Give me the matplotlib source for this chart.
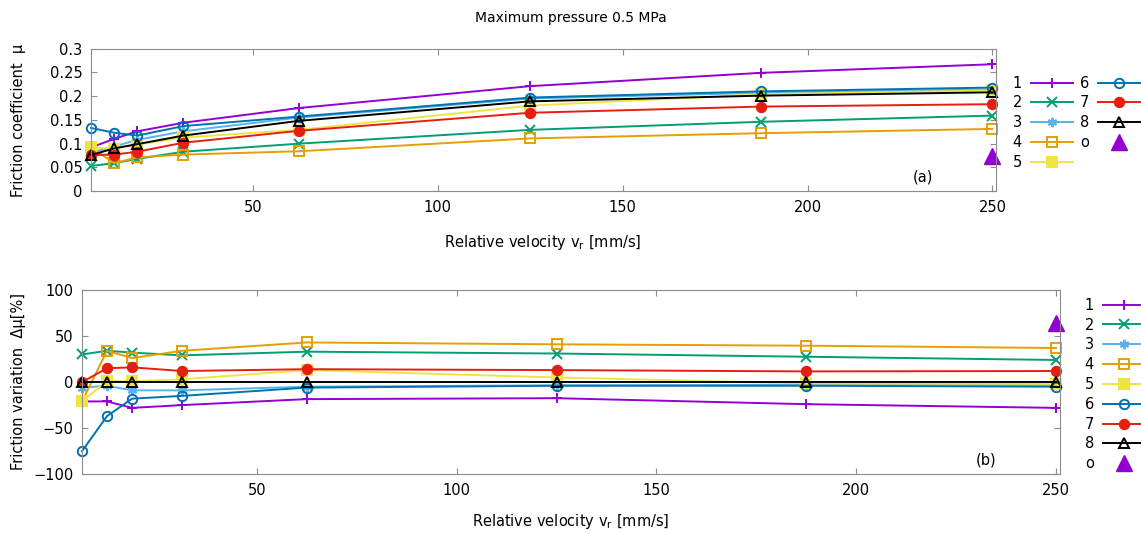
import matplotlib
matplotlib.use('Agg')
import matplotlib.pyplot as plt

# velocidades relativas [mm/s]
vel = [6.25, 12.5, 18.75, 31.25, 62.5, 125, 187.5, 250]

# coeficiente de atrito (a)
mu_1 = [0.092, 0.110, 0.126, 0.144, 0.175, 0.221, 0.249, 0.267]
mu_2 = [0.053, 0.059, 0.068, 0.083, 0.100, 0.129, 0.146, 0.159]
mu_3 = [0.081, 0.094, 0.108, 0.126, 0.155, 0.195, 0.207, 0.214]
mu_4 = [0.092, 0.059, 0.071, 0.077, 0.084, 0.111, 0.122, 0.131]
mu_5 = [0.092, 0.089, 0.098, 0.113, 0.129, 0.180, 0.204, 0.212]
mu_6 = [0.133, 0.123, 0.117, 0.137, 0.157, 0.197, 0.210, 0.218]
mu_7 = [0.076, 0.077, 0.083, 0.102, 0.127, 0.165, 0.178, 0.183]
mu_8 = [0.076, 0.090, 0.099, 0.117, 0.148, 0.189, 0.201, 0.208]
mu_o_x = [250]
mu_o = [0.075]

# variacao do atrito [%] (b)
dmu_1 = [-21, -21, -28, -25, -18.5, -17.5, -24, -28]
dmu_2 = [30, 34, 32, 29, 33, 31, 27.5, 24]
dmu_3 = [-6, -4, -9, -9, -5, -3.5, -3, -3]
dmu_4 = [-21, 34, 26, 34, 43, 41, 39.5, 37]
dmu_5 = [-21, 1, 1, 3, 13, 5, -1.5, -2]
dmu_6 = [-75, -37, -18, -15, -6, -4, -4, -5]
dmu_7 = [0, 15, 16, 12, 14, 13, 11.6, 12]
dmu_8 = [0, 0, 0, 0, 0, 0, 0, 0]
dmu_o_x = [250]
dmu_o = [64]

nomes = ['1', '2', '3', '4', '5', '6', '7', '8']
ESTILOS = [
    dict(color='#9400d3', marker='+', mfc='#9400d3'),
    dict(color='#009e73', marker='x', mfc='#009e73'),
    dict(color='#56b4e9', marker=(6, 2, 0), mfc='#56b4e9'),
    dict(color='#e69f00', marker='s', mfc='none'),
    dict(color='#f0e442', marker='s', mfc='#f0e442'),
    dict(color='#0072b2', marker='o', mfc='none'),
    dict(color='#e51e10', marker='o', mfc='#e51e10'),
    dict(color='black', marker='^', mfc='none'),
]
BORDA = '#8c8c8c'

plt.rcParams['font.family'] = 'DejaVu Sans'
plt.rcParams['font.size'] = 10

fig = plt.figure(figsize=(11.41, 5.34), dpi=100)
ax1 = fig.add_axes([0.0798, 0.642, 0.7932, 0.267])
ax2 = fig.add_axes([0.0719, 0.112, 0.8571, 0.345])


def desenhar(ax, series, ox, oy):
    for nome, ys, st in zip(nomes, series, ESTILOS):
        ax.plot(vel, ys, label=nome, color=st['color'], marker=st['marker'],
                mfc=st['mfc'], mec=st['color'], ms=6.8, mew=1.4, lw=1.4,
                clip_on=False)
    ax.plot(ox, oy, ls='none', marker='^', color='#9400d3', ms=11,
            label='o', clip_on=False)
    ax.set_xlim(6.25, 251)
    ax.set_xticks([50, 100, 150, 200, 250])
    ax.tick_params(direction='in', top=True, right=True, length=4,
                   color=BORDA, labelsize=10.5, pad=6)
    for s in ax.spines.values():
        s.set_color(BORDA)


desenhar(ax1, [mu_1, mu_2, mu_3, mu_4, mu_5, mu_6, mu_7, mu_8], mu_o_x, mu_o)
ax1.set_ylim(0, 0.3)
ax1.set_yticks([0, 0.05, 0.1, 0.15, 0.2, 0.25, 0.3])
ax1.set_yticklabels(['0', '0.05', '0.1', '0.15', '0.2', '0.25', '0.3'])
ax1.text(0.93, 0.07, '(a)', transform=ax1.transAxes, ha='right', fontsize=10.5)

desenhar(ax2, [dmu_1, dmu_2, dmu_3, dmu_4, dmu_5, dmu_6, dmu_7, dmu_8], dmu_o_x, dmu_o)
ax2.set_ylim(-100, 100)
ax2.set_yticks([-100, -50, 0, 50, 100])
ax2.text(0.935, 0.05, '(b)', transform=ax2.transAxes, ha='right', fontsize=10.5)

h, l = ax1.get_legend_handles_labels()
fig.legend(h, l, loc='upper left', bbox_to_anchor=(0.881, 0.872), ncol=2,
           frameon=False, markerfirst=False, handlelength=2.9,
           handletextpad=0.6, columnspacing=0.5, labelspacing=0.33,
           borderpad=0, fontsize=10.5)
h, l = ax2.get_legend_handles_labels()
fig.legend(h, l, loc='upper left', bbox_to_anchor=(0.944, 0.456), ncol=1,
           frameon=False, markerfirst=False, handlelength=2.9,
           handletextpad=0.6, labelspacing=0.33, borderpad=0, fontsize=10.5)

fig.text(0.5, 0.966, 'Maximum pressure 0.5 MPa', ha='center', va='center', fontsize=10)
fig.text(0.476, 0.545, 'Relative velocity v$_\\mathregular{r}$ [mm/s]',
         ha='center', va='center', fontsize=10.5)
fig.text(0.5, 0.024, 'Relative velocity v$_\\mathregular{r}$ [mm/s]',
         ha='center', va='center', fontsize=10.5)
fig.text(0.016, 0.775, 'Friction coefficient  μ', rotation=90,
         ha='center', va='center', fontsize=10.5)
fig.text(0.016, 0.285, 'Friction variation  Δμ[%]', rotation=90,
         ha='center', va='center', fontsize=10.5)

fig.savefig('out.png', dpi=100)
